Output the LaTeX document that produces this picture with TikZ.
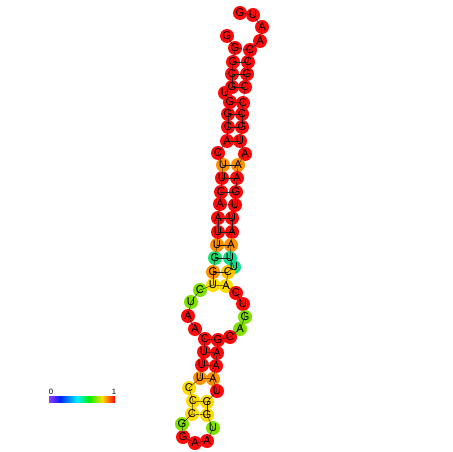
\documentclass[tikz,border=0pt]{standalone}
\usepackage{fontspec}
\setmainfont{Liberation Sans}
\usepackage{xcolor}
\definecolor{hot}{HTML}{FF0A0A}
\definecolor{amber}{HTML}{FF9000}
\definecolor{gold}{HTML}{FFC400}
\definecolor{sun}{HTML}{FFDC00}
\definecolor{lime}{HTML}{80E000}
\definecolor{jade}{HTML}{20E070}
\definecolor{aqua}{HTML}{10DC8C}
\definecolor{cbviolet}{HTML}{9933FF}
\definecolor{cbblue}{HTML}{0022FF}
\definecolor{cbcyan}{HTML}{00F0FF}
\definecolor{cbgreen}{HTML}{00F000}
\definecolor{cbyellow}{HTML}{FFE000}
\definecolor{cbred}{HTML}{FF0000}
\pgfdeclarelayer{discs}
\pgfdeclarelayer{bonds}
\pgfsetlayers{discs,bonds,main}
\tikzset{
  disc/.style={circle,inner sep=0pt,minimum size=3.5mm},
  ntext/.style={inner sep=0pt,font=\fontsize{8}{8}\selectfont},
  bb/.style={line width=0.3pt,black!85},
  bp/.style={line width=0.3pt,black!85},
  barlbl/.style={inner sep=0pt,font=\fontsize{5.5}{6}\selectfont},
}
\begin{document}
\begin{tikzpicture}[x=0.025cm,y=-0.025cm]
\useasboundingbox (0,0) rectangle (452,452);
% nucleotides: index / x / y / base / colour
\foreach \i/\x/\y/\b/\c in {
  1/240/13/G/hot, 2/253/15/U/hot, 3/262/27/A/hot, 4/260/41/A/hot,
  5/250/50/C/hot, 6/248/62/C/hot, 7/247/74/G/hot, 8/245/87/C/hot,
  9/243/103/C/hot, 10/242/114/C/hot, 11/242/127/G/hot, 12/240/141/U/hot,
  13/245/154/A/hot, 14/238/165/A/amber, 15/237/178/A/hot, 16/236/192/G/hot,
  17/235/205/U/hot, 18/232/218/U/hot, 19/232/232/A/hot, 20/231/245/A/amber,
  21/230/258/U/aqua, 22/234/267/U/aqua, 23/228/272/C/gold, 24/226/286/A/sun,
  25/236/293/C/hot, 26/243/304/U/hot, 27/245/317/G/lime, 28/240/329/A/lime,
  29/230/337/C/hot, 30/218/340/G/hot, 31/217/353/A/hot, 32/216/366/A/hot,
  33/213/379/A/amber, 34/217/391/U/hot, 35/207/402/G/sun, 36/207/415/G/sun,
  37/213/428/U/lime, 38/207/441/A/hot, 39/195/443/A/hot, 40/183/437/G/hot,
  41/182/424/G/lime, 42/192/414/C/sun, 43/193/401/C/sun, 44/189/388/C/sun,
  45/200/378/U/amber, 46/202/365/U/hot, 47/204/352/U/hot, 48/205/339/C/hot,
  49/195/329/A/hot, 50/188/316/A/hot, 51/191/302/U/lime, 52/200/290/C/lime,
  53/213/285/U/sun, 54/213/272/G/amber, 55/215/258/G/jade, 56/217/245/U/amber,
  57/218/232/U/hot, 58/218/218/A/hot, 59/220/204/A/hot, 60/221/192/C/hot,
  61/222/178/U/hot, 62/223/165/U/amber, 63/218/153/C/hot, 64/227/141/A/hot,
  65/228/127/C/hot, 66/228/114/G/hot, 67/230/102/G/hot, 68/225/93/U/hot,
  69/232/87/G/hot, 70/232/74/C/hot, 71/233/62/G/hot, 72/235/48/G/hot,
  73/227/36/G/hot} {
  \begin{pgfonlayer}{discs}
    \node[disc,fill=\c] (n\i) at (\x,\y) {};
  \end{pgfonlayer}
  \node[ntext] (t\i) at (n\i) {\b};
}
\begin{pgfonlayer}{bonds}
% backbone
\foreach \i [evaluate=\i as \j using int(\i+1)] in {1,...,72}
  \draw[bb] (n\i.center) -- (n\j.center);
% base pairs
\foreach \p/\q in {5/72,6/71,7/70,8/69,9/67,10/66,11/65,12/64,14/62,15/61,
  16/60,17/59,18/58,19/57,20/56,21/55,23/54,24/53,30/48,31/47,32/46,33/45,
  35/43,36/42}
  \draw[bp] (n\p.center) -- (n\q.center);
\end{pgfonlayer}
% colour scale
\shade[left color=cbviolet,right color=cbblue] (49,396) rectangle (60.3,402);
\shade[left color=cbblue,right color=cbcyan] (60,396) rectangle (77.3,402);
\shade[left color=cbcyan,right color=cbgreen] (77,396) rectangle (89.3,402);
\shade[left color=cbgreen,right color=cbyellow] (89,396) rectangle (102.3,402);
\shade[left color=cbyellow,right color=cbred] (102,396) rectangle (115,402);
\node[barlbl] (z0) at (51,392) {0};
\node[barlbl] (z1) at (114,392) {1};
\end{tikzpicture}
\end{document}
